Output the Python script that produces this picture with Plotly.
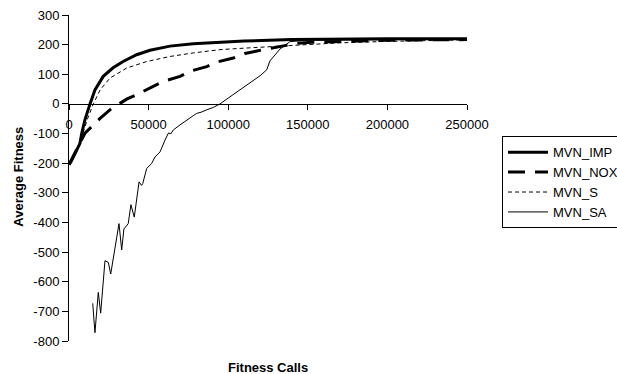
import plotly.graph_objects as go

# MVN_IMP
imp_x = [0, 1250, 4000, 6900, 8000, 10000, 13200, 16300, 21500, 27700, 34000, 42500, 50900,
         63400, 78000, 92800, 110000, 140000, 170000, 200000, 225000, 250000]
imp_y = [-205, -195, -165, -133, -99, -54, 0, 47, 93, 122, 143, 166, 181,
         195, 203, 208, 212, 217, 219, 220, 220, 220]

# MVN_NOX
nox_x = [0, 5000, 10000, 19500, 25700, 36200, 42500, 52900, 59200, 69700, 76000, 86500, 92800,
         103200, 110500, 121000, 127300, 136700, 143800, 152400, 175000, 200000, 250000]
nox_y = [-205, -150, -99, -49, -20, 16, 31, 59, 76, 93, 110, 126, 141,
         155, 170, 182, 189, 199, 205, 208, 212, 215, 217]

# MVN_S
s_x = [0, 4000, 8000, 12000, 15300, 19500, 25700, 36200, 48800, 63400, 78100, 94800,
       103200, 120000, 138800, 170000, 200000, 250000]
s_y = [-205, -165, -110, -45, 0, 47, 87, 121, 143, 160, 172, 183,
       186, 192, 197, 206, 211, 216]

# MVN_SA
sa_x = [14900, 16300, 18400, 19900, 22600, 24700, 26200, 28900, 31400, 33100, 34500, 37200,
        38900, 41000, 44000, 45600, 46300, 48800, 51900, 54000, 57200, 60300, 61500, 62500,
        64000, 65500, 69700, 73900, 76000, 78000, 80200, 83000, 86500, 88000, 90600, 94800,
        101100, 107400, 113700, 120000, 124200, 126200, 132500, 138800, 150000, 175000,
        200000, 250000]
sa_y = [-673, -772, -636, -706, -529, -535, -574, -478, -404, -493, -422, -404,
        -340, -382, -263, -275, -269, -218, -201, -179, -162, -122, -105, -98,
        -101, -88, -71, -54, -45, -40, -32, -28, -20, -18, -12, 0,
        24, 48, 70, 95, 115, 145, 185, 210, 215, 216,
        217, 218]

x_ticks = [0, 50000, 100000, 150000, 200000, 250000]
y_ticks = [300, 200, 100, 0, -100, -200, -300, -400, -500, -600, -700, -800]

FONT = "Arial, Liberation Sans, sans-serif"

fig = go.Figure()
fig.add_trace(go.Scatter(x=imp_x, y=imp_y, mode="lines", name="MVN_IMP",
                         line=dict(color="black", width=3)))
fig.add_trace(go.Scatter(x=nox_x, y=nox_y, mode="lines", name="MVN_NOX",
                         line=dict(color="black", width=3, dash="17px,10px")))
fig.add_trace(go.Scatter(x=s_x, y=s_y, mode="lines", name="MVN_S",
                         line=dict(color="black", width=1, dash="4px,3px")))
fig.add_trace(go.Scatter(x=sa_x, y=sa_y, mode="lines", name="MVN_SA",
                         line=dict(color="black", width=1)))

fig.update_layout(
    width=617, height=374,
    margin=dict(l=69, r=150, t=15, b=33, autoexpand=False),
    paper_bgcolor="white", plot_bgcolor="white",
    font=dict(family=FONT, size=13, color="black"),
    showlegend=True,
    legend=dict(x=1.088, y=0.628, xanchor="left", yanchor="top",
                bordercolor="black", borderwidth=1, bgcolor="white",
                font=dict(size=13), itemwidth=40,
                tracegroupgap=0),
    xaxis=dict(range=[0, 250000], tickvals=x_ticks,
               ticktext=[str(v) for v in x_ticks],
               showgrid=False, zeroline=False, showline=True, linecolor="black",
               linewidth=1, ticks="outside", ticklen=5, tickcolor="black",
               anchor="free", position=(0 - (-800)) / (300 - (-800)),
               ticklabelstandoff=3),
    yaxis=dict(range=[-800, 300], tickvals=y_ticks,
               ticktext=[str(v) for v in y_ticks],
               showgrid=False, zeroline=False, showline=True, linecolor="black",
               linewidth=1, ticks="outside", ticklen=6, tickcolor="black"),
    annotations=[
        dict(text="<b>Fitness Calls</b>", xref="paper", yref="paper",
             x=0.5, y=-0.08, xanchor="center", yanchor="middle",
             showarrow=False, font=dict(size=13)),
        dict(text="<b>Average Fitness</b>", xref="paper", yref="paper",
             x=-0.129, y=0.503, xanchor="center", yanchor="middle",
             textangle=-90, showarrow=False, font=dict(size=13)),
    ],
)

fig.write_html("out.html")
